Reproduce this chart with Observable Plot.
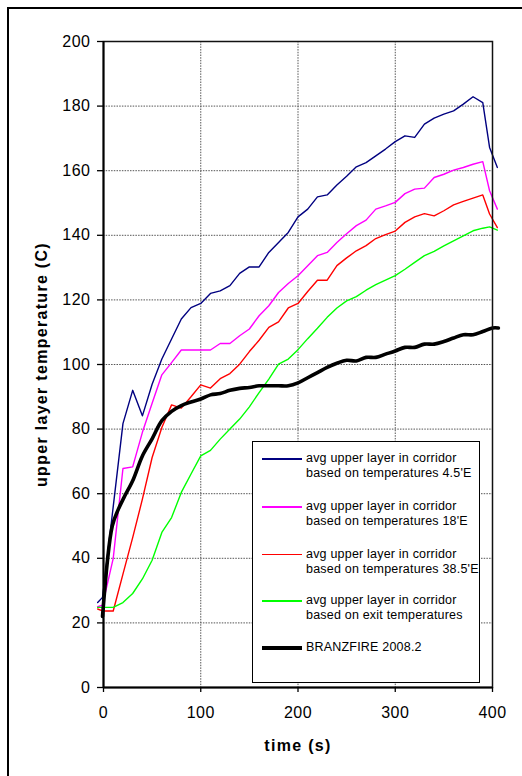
<!DOCTYPE html>
<html>
<head>
<meta charset="utf-8">
<script src="https://cdn.jsdelivr.net/npm/d3@7"></script>
<script src="https://cdn.jsdelivr.net/npm/@observablehq/plot@0.6"></script>
<style>
  html, body { margin: 0; padding: 0; background: #fff; }
  #chart { position: relative; width: 522px; height: 776px; overflow: hidden; background: #fff; font-family: "Liberation Sans", Arial, sans-serif; }
  #border { position: absolute; left: 7px; top: 7px; width: 530px; height: 790px; border: 2px solid #000; box-sizing: border-box; pointer-events: none; }
  #legend { position: absolute; left: 252px; top: 441px; width: 228px; height: 242px; border: 1.5px solid #000; background: #fff; box-sizing: border-box; }
  .swatch { position: absolute; left: 9px; width: 40px; }
  .label { position: absolute; left: 53px; font-size: 12.5px; line-height: 15px; letter-spacing: 0.2px; color: #000; white-space: nowrap; }
  svg g[aria-label="text"] text { letter-spacing: 1.3px; }
  svg g[aria-label$="tick label"] text { letter-spacing: 0.5px; }
</style>
</head>
<body>
<div id="chart"><div id="border"></div></div>
<script>
// Measurement times (s) shared by the four corridor series
const time = [-6, -1, 10, 20, 30, 40, 50, 60, 70, 80, 90, 100, 110, 120, 130, 140, 150, 160, 170, 180, 190,
  200, 210, 220, 230, 240, 250, 260, 270, 280, 290, 300, 310, 320, 330, 340, 350, 360, 370, 380, 390, 397, 405];

// Average upper layer temperature (C) in the corridor
const temp4_5E = [26.3, 27.9, 56, 81.7, 92, 84.1, 93.9, 101.7, 107.9, 114.1, 117.6, 118.9, 122, 122.8, 124.4, 128.2, 130.2, 130.2, 134.7, 137.8, 140.9,
  145.7, 148.1, 151.9, 152.5, 155.6, 158.3, 161.2, 162.5, 164.6, 166.7, 169, 170.8, 170.3, 174.4, 176.3, 177.5, 178.5, 180.6, 182.9, 181.1, 167.2, 161];
const temp18E = [25, 25.5, 40, 67.8, 68.3, 79, 88, 96.8, 100.6, 104.5, 104.5, 104.5, 104.5, 106.5, 106.5, 108.9, 111, 115.1, 118.2, 122.3, 125.1,
  127.5, 130.6, 133.7, 134.7, 137.8, 140.5, 143, 144.7, 148.1, 149.1, 150.2, 152.9, 154.3, 154.6, 157.9, 158.9, 160.2, 161, 162, 162.8, 153.8, 148.1];
const temp38_5E = [24.3, 23.7, 23.7, 35.1, 46.4, 58.3, 71.2, 80.5, 87.5, 86.5, 90, 93.7, 92.7, 95.6, 97.2, 100.1, 104, 107.5, 111.5, 113.2, 117.5,
  118.9, 122.6, 126.1, 126.1, 130.6, 133, 135.2, 136.8, 139, 140.2, 141.3, 144, 145.7, 146.7, 146, 147.6, 149.4, 150.5, 151.5, 152.5, 146.6, 142.4];
const tempExit = [24.8, 24.8, 24.8, 26.3, 29.1, 33.6, 39.4, 48, 52.6, 60.4, 66.1, 71.7, 73.4, 76.9, 80, 83.1, 86.9, 91.3, 95.5, 100.1, 101.7,
  104.6, 108, 111.2, 114.6, 117.5, 119.7, 121, 123, 124.7, 126.1, 127.5, 129.5, 131.6, 133.7, 135, 136.7, 138.3, 139.8, 141.4, 142.2, 142.6, 141.6];

// BRANZFIRE 2008.2 model prediction
const branzTime = [-1, 9, 15, 21, 30, 40, 50, 60, 70, 80, 90, 100, 110, 120, 130, 140, 150, 160, 170, 180, 190, 200,
  210, 220, 230, 240, 250, 260, 270, 280, 290, 300, 310, 320, 330, 340, 350, 360, 370, 380, 390, 400, 406];
const branzTemp = [22, 50, 55, 58.8, 64, 71.7, 77, 82.6, 85.5, 87.3, 88.4, 89.3, 90.6, 91, 92, 92.6, 92.9, 93.4, 93.4, 93.4, 93.4, 94.3,
  95.9, 97.5, 99.1, 100.4, 101.3, 101.1, 102.2, 102.2, 103.2, 104.2, 105.3, 105.3, 106.3, 106.3, 107.1, 108.2, 109.2, 109.2, 110.2, 111.3, 111.3];

const xTicks = [0, 100, 200, 300, 400];
const yTicks = [0, 20, 40, 60, 80, 100, 120, 140, 160, 180, 200];

const series = [
  {name: ["avg upper layer in corridor", "based on temperatures 4.5'E"], color: "#000080", width: 1.4, t: time, v: temp4_5E},
  {name: ["avg upper layer in corridor", "based on temperatures 18'E"], color: "#ff00ff", width: 1.4, t: time, v: temp18E},
  {name: ["avg upper layer in corridor", "based on temperatures 38.5'E"], color: "#ff0000", width: 1.4, t: time, v: temp38_5E},
  {name: ["avg upper layer in corridor", "based on exit temperatures"], color: "#00ff00", width: 1.4, t: time, v: tempExit},
  {name: ["BRANZFIRE 2008.2"], color: "#000000", width: 3.6, t: branzTime, v: branzTemp, smooth: true}
];

const lineMarks = series.map(s => Plot.line(
  s.t.map((t, i) => ({t, T: s.v[i]})),
  {x: "t", y: "T", stroke: s.color, strokeWidth: s.width, curve: s.smooth ? "catmull-rom" : "linear"}
));

const chart = Plot.plot({
  width: 522,
  height: 776,
  marginLeft: 103,
  marginRight: 30,
  marginTop: 41,
  marginBottom: 89,
  style: {fontFamily: "'Liberation Sans', Arial, sans-serif", fontSize: "16px", color: "#000", background: "transparent", overflow: "visible"},
  x: {domain: [0, 400]},
  y: {domain: [0, 200]},
  marks: [
    Plot.gridX(xTicks, {stroke: "#555", strokeOpacity: 1, strokeDasharray: "1.5,1.2"}),
    Plot.gridY(yTicks, {stroke: "#555", strokeOpacity: 1, strokeDasharray: "1.5,1.2"}),
    ...lineMarks,
    Plot.frame({stroke: "#111", strokeWidth: 1.5}),
    Plot.ruleX([0], {stroke: "#000", strokeWidth: 2}),
    Plot.ruleY([0], {stroke: "#000", strokeWidth: 2}),
    Plot.axisX(xTicks, {tickSize: 5, tickPadding: 14, label: null, stroke: "#000", strokeWidth: 1.3}),
    Plot.axisY(yTicks, {tickSize: 6, tickPadding: 7, label: null, stroke: "#000", strokeWidth: 1.3}),
    Plot.text(["upper layer temperature (C)"], {frameAnchor: "left", dx: -62, rotate: -90, text: d => d, textAnchor: "middle", lineAnchor: "middle", fontWeight: "bold", fontSize: 16}),
    Plot.text(["time (s)"], {frameAnchor: "bottom", dy: 58, text: d => d, textAnchor: "middle", lineAnchor: "middle", fontWeight: "bold", fontSize: 16})
  ]
});
chart.style.position = "absolute";
chart.style.left = "0px";
chart.style.top = "0px";
const root = document.getElementById("chart");
root.insertBefore(chart, root.firstChild);

// Legend box placed inside the plot area
const legend = document.createElement("div");
legend.id = "legend";
const rowY = [17, 65, 112.5, 159, 206];
series.forEach((s, i) => {
  const sw = document.createElement("div");
  sw.className = "swatch";
  sw.style.top = (rowY[i] - s.width / 2) + "px";
  sw.style.height = s.width + "px";
  sw.style.background = s.color;
  legend.appendChild(sw);
  const lab = document.createElement("div");
  lab.className = "label";
  lab.style.top = (rowY[i] - 8) + "px";
  lab.innerHTML = s.name.join("<br>");
  legend.appendChild(lab);
});
root.appendChild(legend);
</script>
</body>
</html>
